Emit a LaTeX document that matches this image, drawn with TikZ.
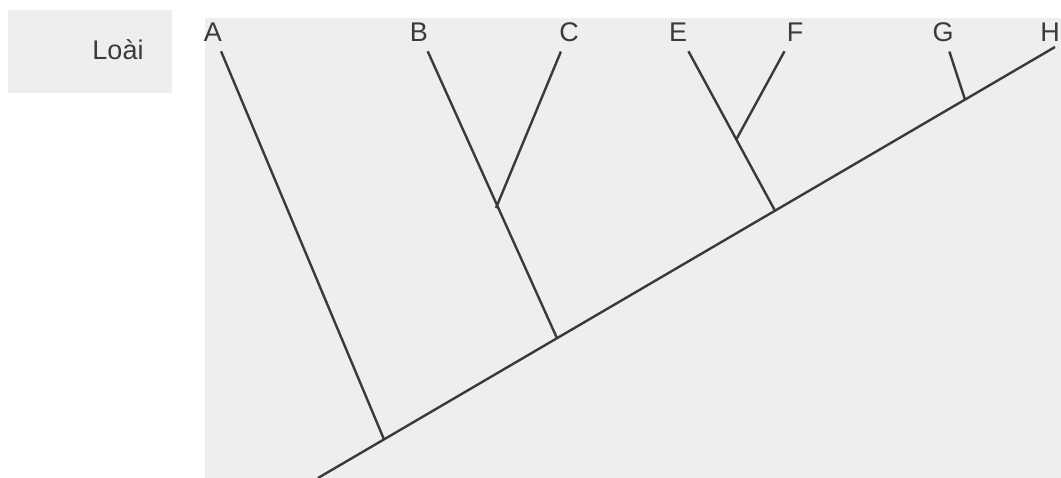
\documentclass[tikz,border=0pt]{standalone}
\usepackage{fontspec}
\setmainfont{Liberation Sans}
\usepackage{tikz}

\definecolor{panel}{RGB}{238,238,238}
\definecolor{ink}{RGB}{58,58,58}

\begin{document}
\begin{tikzpicture}[x=1pt,y=-1pt,
  taxon/.style={text=ink,font=\fontsize{27}{30}\selectfont,inner sep=1pt,outer sep=9pt},
  branch/.style={draw=ink,line width=2.4pt}]
\useasboundingbox (0,0) rectangle (1061,478);
\clip (0,0) rectangle (1061,478);
\fill[panel] (8,10) rectangle (172,93);
\fill[panel] (205,18) rectangle (1061,478);
\node[taxon] (loai) at (118,50) {Loài};
% species at the top
\node[taxon] (A) at (213,32) {A};
\node[taxon] (B) at (419,32) {B};
\node[taxon] (C) at (569,32) {C};
\node[taxon] (E) at (678,32) {E};
\node[taxon] (F) at (795,32) {F};
\node[taxon] (G) at (943,32) {G};
\node[taxon] (H) at (1050,32) {H};
% branching points
\coordinate (root) at (318,478);
\coordinate (jA) at (384,439.4);
\coordinate (jB) at (557,338.2);
\coordinate (jC) at (496,208);
\coordinate (jE) at (775,210.7);
\coordinate (jF) at (736,140);
\coordinate (jG) at (965,99.6);
\coordinate (tipH) at (1055,47);
\draw[branch] (root) -- (jA) -- (jB) -- (jE) -- (jG) -- (tipH);
\draw[branch] (A) -- (jA);
\draw[branch] (B) -- (jB);
\draw[branch] (C) -- (jC);
\draw[branch] (E) -- (jE);
\draw[branch] (F) -- (jF);
\draw[branch] (G) -- (jG);
\end{tikzpicture}
\end{document}
